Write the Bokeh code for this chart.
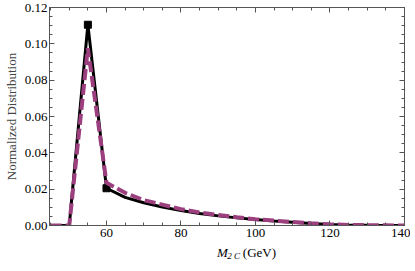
from bokeh.plotting import figure
from bokeh.embed import file_html
from bokeh.resources import INLINE
from bokeh.layouts import column
from bokeh.models import (Range1d, LinearAxis, FixedTicker, PrintfTickFormatter)
from bokeh.core.properties import value

# Data
m2c = [45, 50, 55, 60, 65, 70, 75, 80, 85, 90, 95, 100, 105, 110, 115, 120, 125, 130, 135, 140]
black_vals = [0.0, 0.0, 0.1105, 0.0205, 0.0155, 0.0125, 0.0102, 0.0082, 0.0066, 0.0053, 0.0042,
              0.0033, 0.0025, 0.0018, 0.0011, 0.0006, 0.0003, 0.0001, 0.0, 0.0]
purple_vals = [0.0, 0.0, 0.0976, 0.0235, 0.018, 0.014, 0.0115, 0.009, 0.0072, 0.0058, 0.0045,
               0.0035, 0.0027, 0.0019, 0.0012, 0.0007, 0.0003, 0.0002, 0.0001, 0.0]

x_major = [60, 80, 100, 120, 140]
x_minor = [45 + 5 * i for i in range(20)]
y_major = [0.0, 0.02, 0.04, 0.06, 0.08, 0.10, 0.12]
y_minor = [0.005 * i for i in range(25)]

FONT = "Liberation Serif"
AX = "#555555"
FS = "13px"

p = figure(frame_width=355, frame_height=218, output_backend="svg", toolbar_location=None,
           x_range=Range1d(44.7, 140), y_range=Range1d(0, 0.12),
           min_border_left=0, min_border_right=6, min_border_top=7, min_border_bottom=18)
p.background_fill_color = "white"
p.border_fill_color = "white"
p.outline_line_color = AX
p.grid.visible = False

def style(ax, labels=True):
    ax.axis_line_color = AX
    ax.major_tick_line_color = AX
    ax.minor_tick_line_color = AX
    ax.major_tick_in = 5
    ax.major_tick_out = 0
    ax.minor_tick_in = 3
    ax.minor_tick_out = 0
    ax.major_label_text_font = FONT
    ax.major_label_text_font_size = FS
    ax.major_label_text_color = "black"
    ax.major_label_standoff = 3
    if not labels:
        ax.major_label_text_font_size = "0px"
        ax.major_label_text_alpha = 0
        ax.major_label_standoff = 0

p.xaxis.ticker = FixedTicker(ticks=x_major, minor_ticks=x_minor)
p.yaxis.ticker = FixedTicker(ticks=y_major, minor_ticks=y_minor)
p.yaxis.formatter = PrintfTickFormatter(format="%.2f")
style(p.xaxis[0])
style(p.yaxis[0])
p.yaxis.major_label_standoff = 2
p.yaxis.axis_label = "Normalized Distribution"
p.yaxis.axis_label_text_font = FONT
p.yaxis.axis_label_text_font_size = FS
p.yaxis.axis_label_text_font_style = "normal"
p.yaxis.axis_label_standoff = 3

top = LinearAxis(ticker=FixedTicker(ticks=x_major, minor_ticks=x_minor))
style(top, labels=False)
p.add_layout(top, "above")
right = LinearAxis(ticker=FixedTicker(ticks=y_major, minor_ticks=y_minor))
style(right, labels=False)
p.add_layout(right, "right")

# black series
p.line(m2c, black_vals, line_color="black", line_width=3)
p.scatter(m2c[2:4], black_vals[2:4], marker="square", size=7, color="black")
# purple dashed series
p.line(m2c, purple_vals, line_color="#9C3F7E", line_width=4, line_dash="11 4")

# x-axis title strip (separate small figure so the subscript can be drawn)
W = 402
lab = figure(width=W, height=20, output_backend="svg", toolbar_location=None,
             x_range=Range1d(0, W), y_range=Range1d(0, 20),
             min_border=0, x_axis_type=None, y_axis_type=None)
lab.outline_line_color = None
lab.grid.visible = False
lab.background_fill_color = "white"
lab.border_fill_color = "white"
lab.text(x=[194], y=[11], text=["M"], text_font=value(FONT), text_font_size="13px",
         text_font_style="italic", text_baseline="middle", text_color="black")
lab.text(x=[206], y=[8], text=["2 C"], text_font=value(FONT), text_font_size="9px",
         text_font_style="italic", text_baseline="middle", text_color="black")
lab.text(x=[224], y=[11], text=["(GeV)"], text_font=value(FONT), text_font_size="13px",
         text_baseline="middle", text_color="black")

layout = column(p, lab, spacing=0)
open("out.html", "w").write(file_html(layout, INLINE))
